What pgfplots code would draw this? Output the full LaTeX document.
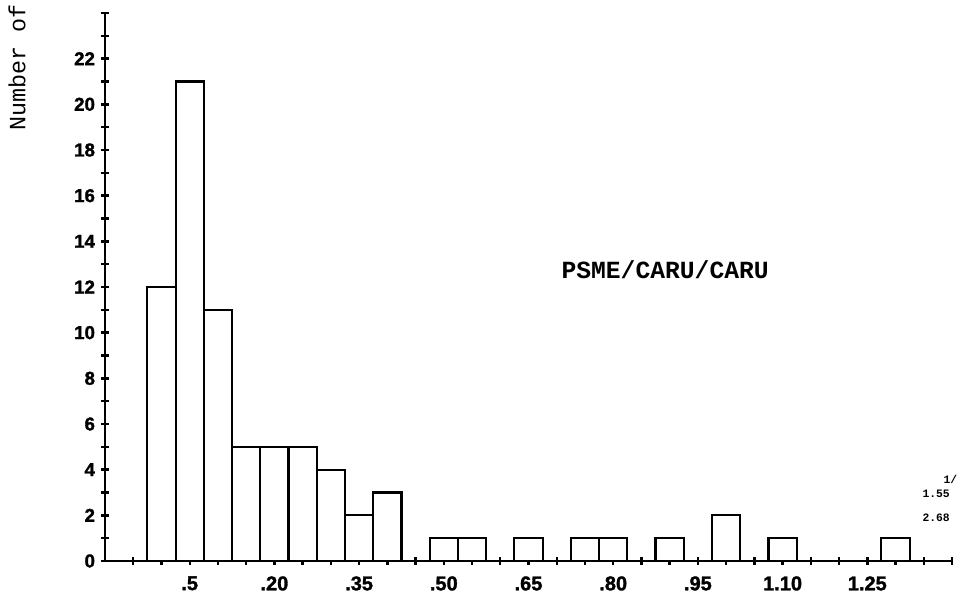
\documentclass[border=0pt]{standalone}
\usepackage{fontspec}
\setmainfont{Liberation Sans}
\setmonofont{Liberation Mono}
\newfontfamily\tickfont{Liberation Sans Bold}[FakeBold=1.5]
\usepackage{pgfplots}
\pgfplotsset{compat=1.18}
\begin{document}
\begin{tikzpicture}
\path[use as bounding box] (-78.75pt,-27.75pt) rectangle (648.75pt,420.75pt);
\begin{axis}[
  at={(0pt,0pt)}, anchor=south west,
  scale only axis, width=635.25pt, height=411pt,
  xmin=-0.10, xmax=1.40, ymin=0, ymax=24,
  axis lines=left,
  axis line style={-, line width=2.2pt},
  clip=false,
  tick align=center,
  major tick length=6pt, minor tick length=6pt,
  every tick/.style={line width=1.8pt, black},
  xtick={0.05,0.20,0.35,0.50,0.65,0.80,0.95,1.10,1.25},
  xticklabels={.5,.20,.35,.50,.65,.80,.95,1.10,1.25},
  minor xtick={-0.05,0,0.05,0.10,0.15,0.20,0.25,0.30,0.35,0.40,0.45,0.50,0.55,0.60,0.65,0.70,0.75,0.80,0.85,0.90,0.95,1.00,1.05,1.10,1.15,1.20,1.25,1.30,1.35,1.40},
  ytick={0,2,...,22},
  minor ytick={1,3,5,7,9,11,13,15,17,19,21,23,24},
  /pgf/number format/assume math mode=true,
  yticklabel style={font=\fontsize{14}{14}\selectfont\tickfont, xshift=-1pt},
  xticklabel style={font=\fontsize{15}{15}\selectfont\tickfont, yshift=-5pt},
]
\addplot[ybar, bar width=0.05, draw=black, line width=1.6pt, fill=white] coordinates {
(0.00,12) (0.05,21) (0.10,11) (0.15,5) (0.20,5) (0.25,5) (0.30,4) (0.35,2) (0.40,3)
(0.50,1) (0.55,1) (0.65,1) (0.75,1) (0.80,1) (0.90,1) (1.00,2) (1.10,1) (1.30,1)
};
\node[font=\ttfamily\fontsize{17.5}{17.5}\selectfont, rotate=90] at (axis cs:-0.256,21.6) {Number of};
\node[font=\ttfamily\bfseries\fontsize{18.5}{18.5}\selectfont] at (axis cs:0.892,12.75) {PSME/CARU/CARU};
\node[font=\ttfamily\bfseries\fontsize{8.5}{8.5}\selectfont] at (axis cs:1.372,2.93) {1.55};
\node[font=\ttfamily\bfseries\fontsize{8.5}{8.5}\selectfont] at (axis cs:1.372,1.88) {2.68};
\node[font=\ttfamily\bfseries\fontsize{8.5}{8.5}\selectfont] at (axis cs:1.397,3.55) {1/};
\end{axis}
\end{tikzpicture}
\end{document}
